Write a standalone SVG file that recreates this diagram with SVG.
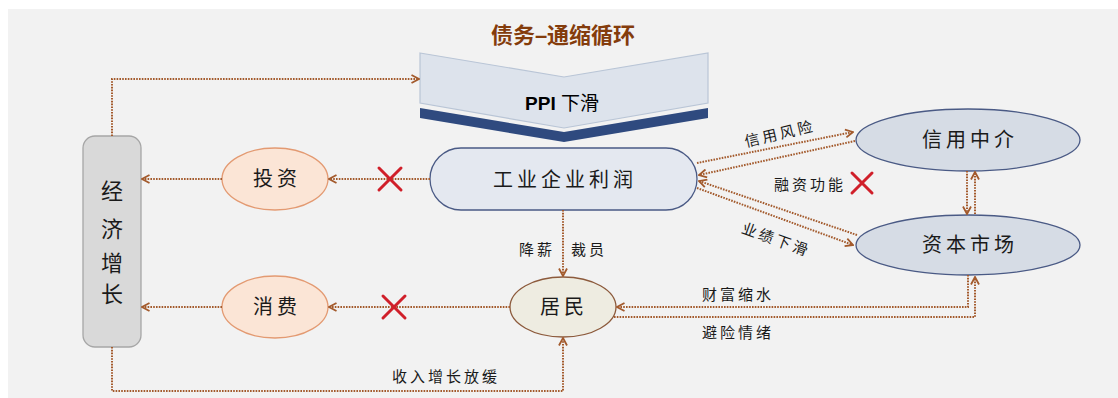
<svg xmlns="http://www.w3.org/2000/svg" width="1118" height="398" viewBox="0 0 1118 398">
  <defs>
    <style>
      .cjk { font-family: "Liberation Serif", "Noto Sans CJK SC", serif; fill: #1a1a1a; }
      .node-t { font-size: 20px; text-anchor: middle; dominant-baseline: central; letter-spacing: 4px; }
      .lbl { font-size: 15px; text-anchor: middle; dominant-baseline: central; letter-spacing: 3px; }
      .conn { fill: none; stroke: #a35a2c; stroke-width: 2; stroke-dasharray: 1.6 1.2; }
      .x { stroke: #d01f2a; stroke-width: 3; stroke-linecap: round; }
    </style>
    <marker id="ah" viewBox="0 0 10 10" refX="9" refY="5" markerWidth="10" markerHeight="10" orient="auto" markerUnits="userSpaceOnUse">
      <path d="M1.5,1 L9,5 L1.5,9" fill="none" stroke="#a35a2c" stroke-width="1.8"/>
    </marker>
  </defs>

  <rect x="8" y="9" width="1110" height="389" fill="#f2f2f2"/>

  <text x="563" y="35" text-anchor="middle" dominant-baseline="central" font-family="Liberation Sans, Noto Sans CJK SC, sans-serif" font-size="22" font-weight="bold" fill="#843c0c">债务–通缩循环</text>

  <g id="ppi">
    <polygon points="420,108 564,132 708,108 708,118 564,142 420,118" fill="#2f4a7f"/>
    <polygon points="420,53 564,77 708,53 708,103 564,128 420,103" fill="#dde3ec" stroke="#b9c5d6" stroke-width="1.2"/>
    <text x="562" y="103" text-anchor="middle" dominant-baseline="central" font-family="Liberation Sans, Noto Sans CJK SC, sans-serif" font-size="19" fill="#000"><tspan font-weight="bold">PPI</tspan> 下滑</text>
  </g>

  <g id="profit">
    <rect x="430" y="148" width="267" height="62" rx="31" ry="31" fill="#e4e8f0" stroke="#4a5a85" stroke-width="1.3"/>
    <text class="cjk node-t" x="565" y="180">工业企业利润</text>
  </g>

  <g id="growth">
    <rect x="83" y="136" width="58" height="211" rx="12" ry="12" fill="#d9d9d9" stroke="#a6a6a6" stroke-width="1.3"/>
    <text class="cjk" x="112" y="191" font-size="22" text-anchor="middle" dominant-baseline="central">经</text>
    <text class="cjk" x="112" y="229" font-size="22" text-anchor="middle" dominant-baseline="central">济</text>
    <text class="cjk" x="112" y="263" font-size="22" text-anchor="middle" dominant-baseline="central">增</text>
    <text class="cjk" x="112" y="294" font-size="22" text-anchor="middle" dominant-baseline="central">长</text>
  </g>

  <g id="invest">
    <ellipse cx="275" cy="179" rx="53" ry="31" fill="#fbe5d6" stroke="#e39a72" stroke-width="1.3"/>
    <text class="cjk node-t" x="277" y="179" letter-spacing="3">投资</text>
  </g>

  <g id="consume">
    <ellipse cx="275" cy="307" rx="53" ry="31" fill="#fbe5d6" stroke="#e39a72" stroke-width="1.3"/>
    <text class="cjk node-t" x="277" y="307" letter-spacing="3">消费</text>
  </g>

  <g id="household">
    <ellipse cx="563" cy="307" rx="53" ry="30" fill="#eeece1" stroke="#8c5a3c" stroke-width="1.3"/>
    <text class="cjk node-t" x="564" y="307" font-size="22" letter-spacing="2">居民</text>
  </g>

  <g id="credit">
    <ellipse cx="968" cy="140" rx="112" ry="31" fill="#d6dce5" stroke="#4a5a85" stroke-width="1.3"/>
    <text class="cjk node-t" x="970" y="140" font-size="21">信用中介</text>
  </g>

  <g id="capital">
    <ellipse cx="968" cy="245" rx="112" ry="30" fill="#d6dce5" stroke="#4a5a85" stroke-width="1.3"/>
    <text class="cjk node-t" x="970" y="245" font-size="21">资本市场</text>
  </g>

  <g id="connectors">
    <path class="conn" d="M112,136 V79 H419" marker-end="url(#ah)"/>
    <path class="conn" d="M222,179 H142" marker-end="url(#ah)"/>
    <path class="conn" d="M222,307 H142" marker-end="url(#ah)"/>
    <path class="conn" d="M430,179 H329" marker-end="url(#ah)"/>
    <path class="conn" d="M510,307 H329" marker-end="url(#ah)"/>
    <path class="conn" d="M563,210 V276" marker-end="url(#ah)"/>
    <path class="conn" d="M112,347 V391 H563 V338" marker-end="url(#ah)"/>
    <path class="conn" d="M697,163 L853,132" marker-end="url(#ah)"/>
    <path class="conn" d="M855,141 L699,175" marker-end="url(#ah)"/>
    <path class="conn" d="M857,235 L699,181" marker-end="url(#ah)"/>
    <path class="conn" d="M697,188 L853,245" marker-end="url(#ah)"/>
    <path class="conn" d="M967,171 V214" marker-end="url(#ah)"/>
    <path class="conn" d="M975,214 V172" marker-end="url(#ah)"/>
    <path class="conn" d="M968,275 V307 H617" marker-end="url(#ah)"/>
    <path class="conn" d="M614,317 H975 V277" marker-end="url(#ah)"/>
  </g>

  <g id="marks">
    <path class="x" d="M379,168 L401,190 M401,168 L379,190"/>
    <path class="x" d="M383,296 L405,318 M405,296 L383,318"/>
    <path class="x" d="M852,173 L872,193 M872,173 L852,193"/>
  </g>

  <g id="labels">
    <text class="cjk lbl" x="780" y="134" transform="rotate(-13 780 134)">信用风险</text>
    <text class="cjk lbl" x="810" y="185">融资功能</text>
    <text class="cjk lbl" x="776" y="240" transform="rotate(20 776 240)">业绩下滑</text>
    <text class="cjk lbl" x="537" y="250" letter-spacing="2">降薪</text>
    <text class="cjk lbl" x="589" y="250" letter-spacing="2">裁员</text>
    <text class="cjk lbl" x="738" y="295">财富缩水</text>
    <text class="cjk lbl" x="738" y="333">避险情绪</text>
    <text class="cjk lbl" x="446" y="377">收入增长放缓</text>
  </g>
</svg>
